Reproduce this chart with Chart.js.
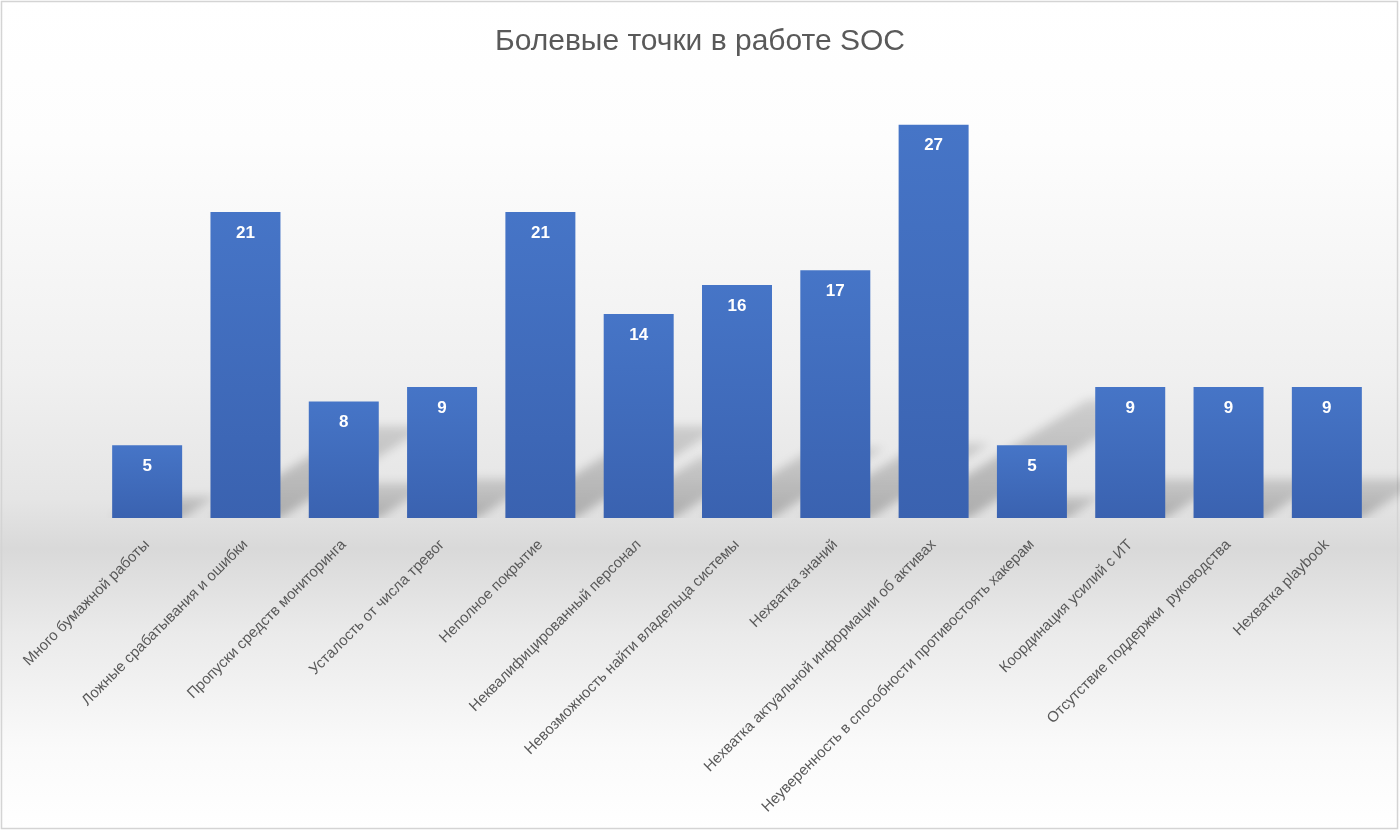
<!DOCTYPE html>
<html lang="ru">
<head>
<meta charset="utf-8">
<title>Болевые точки в работе SOC</title>
<script src="https://cdn.jsdelivr.net/npm/chart.js@4.4.1/dist/chart.umd.min.js"></script>
<style>
  html, body { margin: 0; padding: 0; background: #fff; }
  canvas { display: block; }
</style>
</head>
<body>
<canvas id="painChart" width="1400" height="831"></canvas>
<script>
// данные опроса
var chartTitle = 'Болевые точки в работе SOC';
var categories = [
    'Много бумажной работы',
    'Ложные срабатывания и ошибки',
    'Пропуски средств мониторинга',
    'Усталость от числа тревог',
    'Неполное покрытие',
    'Неквалифицированный персонал',
    'Невозможность найти владельца системы',
    'Нехватка знаний',
    'Нехватка актуальной информации об активах',
    'Неуверенность в способности противостоять хакерам',
    'Координация усилий с ИТ',
    'Отсутствие поддержки  руководства',
    'Нехватка playbook'
];
var counts = [5, 21, 8, 9, 21, 14, 16, 17, 27, 5, 9, 9, 9];
var yMax = 30;

// фон: белый сверху, серая полоса у основания столбцов, рамка
var backdrop = {
    id: 'backdrop',
    beforeDraw: function (chart) {
        var ctx = chart.ctx, w = chart.width, h = chart.height;
        var g = ctx.createLinearGradient(0, 0, 0, h);
        g.addColorStop(0, '#ffffff');
        g.addColorStop(0.17, '#fdfdfd');
        g.addColorStop(0.45, '#f0f0f0');
        g.addColorStop(0.6, '#e5e5e5');
        g.addColorStop(0.66, '#d9d9d9');
        g.addColorStop(0.76, '#eaeaea');
        g.addColorStop(0.9, '#fafafa');
        g.addColorStop(1, '#ffffff');
        ctx.save();
        ctx.fillStyle = g;
        ctx.fillRect(0, 0, w, h);
        ctx.strokeStyle = '#d4d4d4';
        ctx.lineWidth = 1.5;
        ctx.strokeRect(1.5, 1.5, w - 4, h - 4);
        ctx.restore();
    },
    // заголовок по центру всего холста
    afterDraw: function (chart) {
        var ctx = chart.ctx;
        ctx.save();
        ctx.fillStyle = '#595959';
        ctx.font = '30px "Liberation Sans", Arial, sans-serif';
        ctx.textAlign = 'center';
        ctx.textBaseline = 'alphabetic';
        ctx.fillText(chartTitle, chart.width / 2, 50);
        ctx.restore();
    }
};

// перспективная тень за каждым столбцом
var barShadow = {
    id: 'barShadow',
    beforeDatasetsDraw: function (chart) {
        var ctx = chart.ctx;
        var bars = chart.getDatasetMeta(0).data;
        ctx.save();
        ctx.beginPath();
        ctx.rect(0, 0, chart.width, chart.chartArea.bottom);
        ctx.clip();
        ctx.filter = 'blur(5px)';
        bars.forEach(function (el) {
            var x0 = el.x - el.width / 2, x1 = el.x + el.width / 2;
            var yb = el.base, hgt = yb - el.y;
            var dx = hgt * 0.48, dy = hgt * 0.3;
            var g = ctx.createLinearGradient(0, yb, 0, yb - dy);
            g.addColorStop(0, 'rgba(0,0,0,0.24)');
            g.addColorStop(1, 'rgba(0,0,0,0.13)');
            ctx.fillStyle = g;
            ctx.beginPath();
            ctx.moveTo(x0, yb);
            ctx.lineTo(x1, yb);
            ctx.lineTo(x1 + dx, yb - dy);
            ctx.lineTo(x0 + dx, yb - dy);
            ctx.closePath();
            ctx.fill();
        });
        ctx.restore();
    }
};

// подписи значений внутри столбцов
var valueLabels = {
    id: 'valueLabels',
    afterDatasetsDraw: function (chart) {
        var ctx = chart.ctx;
        var bars = chart.getDatasetMeta(0).data;
        ctx.save();
        ctx.fillStyle = '#ffffff';
        ctx.font = 'bold 17px "Liberation Sans", Arial, sans-serif';
        ctx.textAlign = 'center';
        ctx.textBaseline = 'middle';
        bars.forEach(function (el, i) {
            ctx.fillText(String(counts[i]), el.x, el.y + 21);
        });
        ctx.restore();
    }
};

var ctx = document.getElementById('painChart').getContext('2d');
var painChart = new Chart(ctx, {
    type: 'bar',
    data: {
        labels: categories,
        datasets: [{
            label: 'Болевые точки',
            data: counts,
            backgroundColor: function (c) {
                var y = c.chart.scales.y;
                if (!y || c.raw == null) return '#4472c4';
                var top = y.getPixelForValue(c.raw), base = y.getPixelForValue(0);
                if (!isFinite(top) || !isFinite(base)) return '#4472c4';
                var g = c.chart.ctx.createLinearGradient(0, top, 0, base);
                g.addColorStop(0, '#4675c7');
                g.addColorStop(1, '#3a62b0');
                return g;
            },
            borderWidth: 0,
            categoryPercentage: 1,
            barPercentage: 0.712
        }]
    },
    options: {
        responsive: false,
        animation: false,
        layout: { padding: { left: 98, right: 24, top: 81, bottom: 0 } },
        plugins: {
            legend: { display: false },
            tooltip: { enabled: false },
            title: { display: false }
        },
        scales: {
            x: {
                grid: { display: false, drawTicks: false },
                border: { display: false },
                ticks: {
                    color: '#595959',
                    font: { family: '"Liberation Sans", Arial, sans-serif', size: 15 },
                    minRotation: 45,
                    maxRotation: 45,
                    autoSkip: false,
                    padding: 18
                },
                afterFit: function (scale) { scale.height = 313; }
            },
            y: {
                display: false,
                min: 0,
                max: yMax
            }
        }
    },
    plugins: [backdrop, barShadow, valueLabels]
});
</script>
</body>
</html>
